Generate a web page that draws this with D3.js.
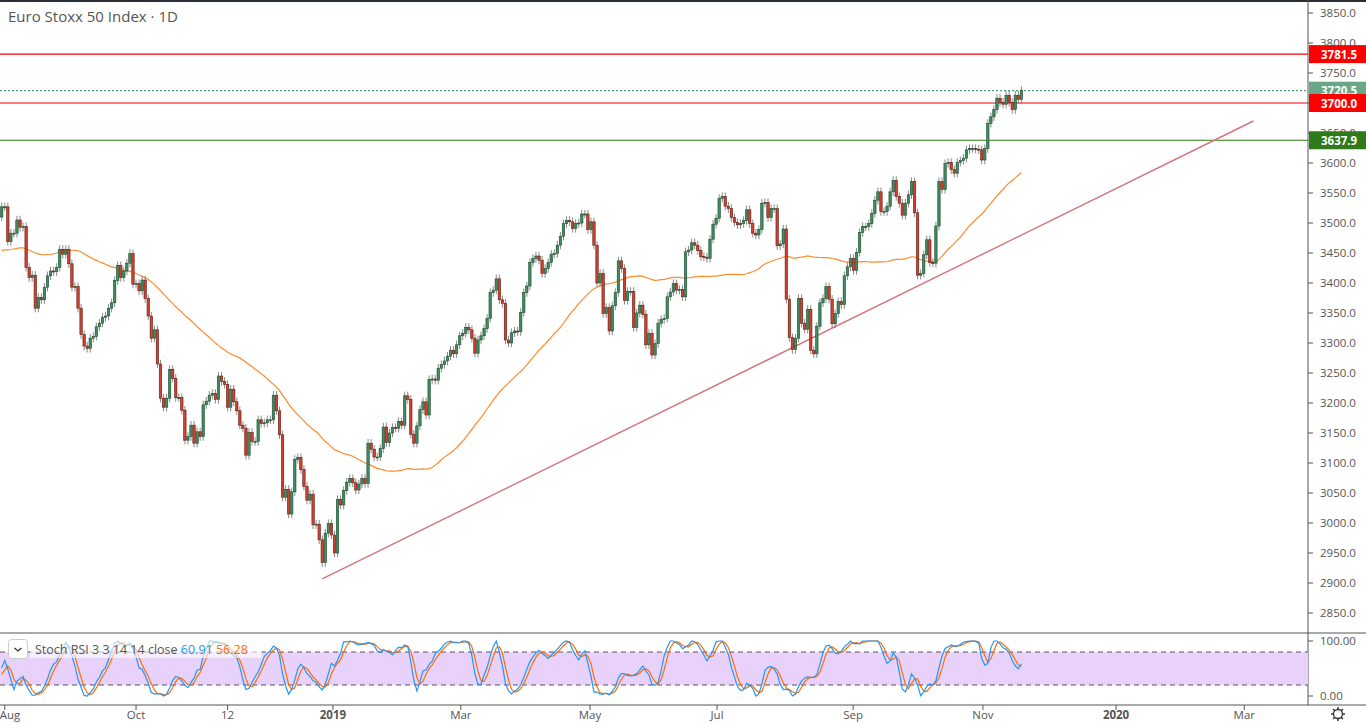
<!DOCTYPE html>
<html>
<head>
<meta charset="utf-8">
<script src="https://cdnjs.cloudflare.com/ajax/libs/d3/7.8.5/d3.min.js"></script>
<style>
  body { margin: 0; background: #fff; overflow: hidden; }
  text { font-family: "Open Sans", "DejaVu Sans", sans-serif; }
</style>
</head>
<body>
<div id="chart"></div>
<script>
// closes before the visible window (used only to warm up the MA and Stoch RSI)
var preCloses = [3450,3460,3470,3460,3440,3450,3460,3490,3500,3530,3520,3480,3450,3440,3400,3390,3400,3380,3360,3370,
  3395,3380,3400,3410,3405,3390,3420,3440,3445,3450,3460,3430,3445,3440,3460,3470,3480,3460,3480,3500,
  3510,3490,3470,3480,3495,3510,3520,3480,3500,3510];

// daily closes, Aug 2018 -> Nov 2019
var closes = [3527,3527,3469,3483,3483,3505,3493,3494,3426,3409,3413,3358,3376,3372,3393,3412,3420,3419,3426,3456,
  3448,3456,3432,3393,3394,3358,3314,3295,3291,3308,3311,3327,3333,3343,3345,3358,3367,3404,3429,3409,
  3420,3433,3449,3398,3399,3387,3405,3374,3345,3308,3322,3265,3208,3193,3208,3256,3241,3209,3209,3188,
  3138,3144,3163,3133,3152,3144,3197,3203,3213,3216,3206,3245,3236,3231,3193,3223,3202,3187,3163,3158,
  3113,3151,3136,3136,3172,3166,3167,3172,3172,3213,3187,3147,3043,3056,3015,3052,3106,3109,3089,3061,
  3038,3048,2997,2998,2972,2934,2983,2999,2980,2950,3039,3030,
  3054,3068,3074,3067,3055,3065,3074,3066,3133,3123,3110,3110,3124,3160,3134,3150,3159,3158,3169,3163,
  3212,3206,3148,3133,3162,3189,3202,3180,3239,3240,3238,3258,3264,3270,3278,3288,3282,3297,3312,3316,
  3326,3322,3308,3283,3305,3312,3324,3341,3384,3388,3407,3372,3366,3305,3300,3317,3320,3319,3351,3384,
  3395,3434,3441,3445,3438,3416,3424,3434,3448,3449,3463,3478,3499,3504,3502,3491,3499,3500,3515,3515,
  3489,3502,3463,3400,3416,3349,3359,3320,3362,3384,3437,3424,3371,3386,3386,3326,3350,3363,3348,3297,
  3316,3280,3299,3333,3339,3341,3377,
  3385,3399,3388,3389,3377,3452,3455,3467,3463,3454,3444,3443,3441,3473,3498,3508,3541,3544,3528,3524,
  3509,3501,3497,3499,3504,3522,3499,3483,3480,3489,3533,3534,3509,3524,3524,3462,3465,3490,3373,3309,
  3289,3308,3374,3333,3323,3356,3288,3282,3328,3367,3374,3394,3373,3332,3349,3369,3364,3412,3427,3441,
  3421,3451,3484,3494,3494,3499,3516,3538,3552,3519,3519,3528,3552,3571,3544,3533,3513,3533,3547,3569,
  3517,3413,3416,3447,3472,3434,3433,3495,3569,3556,3599,3601,3589,3583,3601,3604,3608,3622,3624,3624,
  3623,3622,3605,3624,3666,3677,3689,3708,3701,3698,3713,3701,3689,3713,3706,3721];

var levels = [
  {value: 3781.5, color: "#f00000", box: "#ff0000", dash: null},
  {value: 3720.5, color: "#4c9c74", box: "#68a886", dash: "2,2"},
  {value: 3700.0, color: "#f00000", box: "#ff0000", dash: null},
  {value: 3637.9, color: "#2f7a10", box: "#2f7a1a", dash: null}
];
var trendLine = [[106, 2907], [411, 3670]];
var priceTicks = d3.range(2850, 3851, 50);
var dateTicks = [
  {i: 2, label: "Aug"}, {i: 45, label: "Oct"}, {i: 75, label: "12"}, {i: 109.5, label: "2019", bold: true},
  {i: 151.4, label: "Mar"}, {i: 193.7, label: "May"}, {i: 235.3, label: "Jul"}, {i: 279.9, label: "Sep"},
  {i: 322.4, label: "Nov"}, {i: 366, label: "2020", bold: true}, {i: 408, label: "Mar"}
];

var W = 1366, H = 723, axisX = 1308;
var svg = d3.select("#chart").append("svg").attr("width", W).attr("height", H);

// bars
var all = preCloses.concat(closes);
var off = preCloses.length;
var bars = closes.map(function (c, k) {
  var o = all[off + k - 1];
  return {i: k + 1, o: o, c: c, h: Math.max(o, c) + 7, l: Math.min(o, c) - 7};
});

// 50 day simple moving average
var ma = closes.map(function (c, k) {
  var j = off + k;
  return {i: k + 1, v: d3.mean(all.slice(j - 49, j + 1))};
});

// stoch rsi 3 3 14 14
var rsi = [];
var ag = 0, al = 0;
for (var j = 1; j < all.length; j++) {
  var ch = all[j] - all[j - 1];
  var g = Math.max(ch, 0), ls = Math.max(-ch, 0);
  if (j <= 14) { ag += g / 14; al += ls / 14; }
  else { ag = (ag * 13 + g) / 14; al = (al * 13 + ls) / 14; }
  rsi[j] = j >= 14 ? (al == 0 ? 100 : 100 - 100 / (1 + ag / al)) : null;
}
var st = [];
for (var j = 27; j < all.length; j++) {
  var win = rsi.slice(j - 13, j + 1);
  var mn = d3.min(win), mx = d3.max(win);
  st[j] = mx == mn ? 50 : (rsi[j] - mn) / (mx - mn) * 100;
}
var kk = [], dd = [];
for (var j = 29; j < all.length; j++) kk[j] = d3.mean(st.slice(j - 2, j + 1));
for (var j = 31; j < all.length; j++) dd[j] = d3.mean(kk.slice(j - 2, j + 1));
var stoch = closes.map(function (c, k) { return {i: k + 1, k: kk[off + k], d: dd[off + k]}; });

// scales
var x = d3.scaleLinear().domain([1, 336]).range([1.7, 1.7 + 335 * 3.053]);
var y = d3.scaleLinear().domain([3600, 2850]).range([163, 613]);
var yr = d3.scaleLinear().domain([0, 100]).range([696, 641]);

// clip for main pane
svg.append("clipPath").attr("id", "mainclip").append("rect").attr("x", 0).attr("y", 2).attr("width", axisX).attr("height", 630);
var main = svg.append("g").attr("clip-path", "url(#mainclip)");

// horizontal levels
levels.forEach(function (d) {
  main.append("line").attr("x1", 0).attr("x2", axisX).attr("y1", y(d.value)).attr("y2", y(d.value))
    .attr("stroke", d.color).attr("stroke-width", 1.2).attr("stroke-dasharray", d.dash);
});

// trend line
main.append("line")
  .attr("x1", x(trendLine[0][0])).attr("y1", y(trendLine[0][1]))
  .attr("x2", x(trendLine[1][0])).attr("y2", y(trendLine[1][1]))
  .attr("stroke", "#d4747c").attr("stroke-width", 1.4);

// moving average
main.append("path").datum(ma)
  .attr("d", d3.line().x(function (d) { return x(d.i); }).y(function (d) { return y(d.v); }))
  .attr("fill", "none").attr("stroke", "#ff8a2a").attr("stroke-width", 1.2);

// candles
var cg = main.append("g").selectAll("g").data(bars).enter().append("g");
cg.append("line")
  .attr("x1", function (d) { return x(d.i); }).attr("x2", function (d) { return x(d.i); })
  .attr("y1", function (d) { return y(d.h); }).attr("y2", function (d) { return y(d.l); })
  .attr("stroke", "#6b6b6b").attr("stroke-width", 0.8);
cg.append("rect")
  .attr("x", function (d) { return x(d.i) - 1.2; }).attr("width", 2.4)
  .attr("y", function (d) { return y(Math.max(d.o, d.c)); })
  .attr("height", function (d) { return Math.max(1, Math.abs(y(d.o) - y(d.c))); })
  .attr("fill", function (d) { return d.c >= d.o ? "#3e8c60" : "#d2402f"; })
  .attr("stroke", function (d) { return d.c >= d.o ? "#1d4b31" : "#5c1c12"; })
  .attr("stroke-width", 0.6);

// top border
svg.append("rect").attr("x", 0).attr("y", 0).attr("width", W).attr("height", 2).attr("fill", "#2a2e39");

// title
svg.append("text").attr("x", 8).attr("y", 22).attr("font-size", 15).attr("fill", "#555").text("Euro Stoxx 50 Index · 1D");

// price axis
svg.append("line").attr("x1", axisX).attr("x2", axisX).attr("y1", 0).attr("y2", 705).attr("stroke", "#555").attr("stroke-width", 1);
var pa = svg.append("g").selectAll("g").data(priceTicks).enter().append("g");
pa.append("line").attr("x1", axisX).attr("x2", axisX + 5).attr("y1", function (d) { return y(d); }).attr("y2", function (d) { return y(d); }).attr("stroke", "#555");
pa.append("text").attr("x", axisX + 12).attr("y", function (d) { return y(d) + 4; })
  .attr("font-size", 11.5).attr("fill", "#555").text(function (d) { return d.toFixed(1); });

// level labels
levels.forEach(function (d) {
  svg.append("rect").attr("x", axisX + 1).attr("y", y(d.value) - 9).attr("width", W - axisX).attr("height", 18).attr("fill", d.box);
  svg.append("text").attr("x", axisX + 13).attr("y", y(d.value) + 4.5).attr("font-size", 11.5)
    .attr("font-weight", "bold").attr("fill", "#fff").text(d.value.toFixed(1));
});

// separator between panes
svg.append("line").attr("x1", 0).attr("x2", W).attr("y1", 633).attr("y2", 633).attr("stroke", "#555");

// stoch rsi pane
svg.append("rect").attr("x", 0).attr("y", yr(80)).attr("width", axisX).attr("height", yr(20) - yr(80)).attr("fill", "#e8d2fb");
[80, 20].forEach(function (v) {
  svg.append("line").attr("x1", 0).attr("x2", axisX).attr("y1", yr(v)).attr("y2", yr(v))
    .attr("stroke", "#555").attr("stroke-dasharray", "5,4");
});
svg.append("path").datum(stoch)
  .attr("d", d3.line().x(function (d) { return x(d.i); }).y(function (d) { return yr(d.d); }))
  .attr("fill", "none").attr("stroke", "#ff6d00").attr("stroke-width", 1.2);
svg.append("path").datum(stoch)
  .attr("d", d3.line().x(function (d) { return x(d.i); }).y(function (d) { return yr(d.k); }))
  .attr("fill", "none").attr("stroke", "#2196f3").attr("stroke-width", 1.2);
[100, 0].forEach(function (v) {
  svg.append("line").attr("x1", axisX).attr("x2", axisX + 5).attr("y1", yr(v)).attr("y2", yr(v)).attr("stroke", "#555");
  svg.append("text").attr("x", axisX + 12).attr("y", yr(v) + 4).attr("font-size", 11.5).attr("fill", "#555").text(v.toFixed(2));
});

// legend
svg.append("rect").attr("x", 30).attr("y", 640).attr("width", 232).attr("height", 18).attr("fill", "#fff").attr("opacity", 0.6);
svg.append("rect").attr("x", 8.5).attr("y", 639.5).attr("width", 19).attr("height", 19).attr("rx", 3).attr("fill", "#fff").attr("stroke", "#ccc");
svg.append("path").attr("d", "M14.5,648 L18,651 L21.5,648").attr("fill", "none").attr("stroke", "#333").attr("stroke-width", 1.3);
var lg = svg.append("text").attr("x", 35).attr("y", 654).attr("font-size", 12.5);
lg.append("tspan").attr("fill", "#555").text("Stoch RSI 3 3 14 14 close ");
lg.append("tspan").attr("fill", "#2196f3").text(" 60.91 ");
lg.append("tspan").attr("fill", "#ff6d00").text(" 56.28");

// date axis
svg.append("line").attr("x1", 0).attr("x2", W).attr("y1", 705).attr("y2", 705).attr("stroke", "#555");
var da = svg.append("g").selectAll("g").data(dateTicks).enter().append("g");
da.append("line").attr("x1", function (d) { return x(d.i); }).attr("x2", function (d) { return x(d.i); })
  .attr("y1", 705).attr("y2", 710).attr("stroke", "#555");
da.append("text").attr("x", function (d) { return Math.max(x(d.i), 10); }).attr("y", 719).attr("text-anchor", "middle")
  .attr("font-size", 11.5).attr("font-weight", function (d) { return d.bold ? "bold" : "normal"; })
  .attr("fill", "#555").text(function (d) { return d.label; });

// settings gear
var gear = svg.append("g").attr("transform", "translate(1338,714)");
gear.append("circle").attr("r", 4.5).attr("fill", "none").attr("stroke", "#333").attr("stroke-width", 1.3);
d3.range(8).forEach(function (k) {
  var a = k * Math.PI / 4;
  gear.append("line").attr("x1", Math.cos(a) * 4.5).attr("y1", Math.sin(a) * 4.5)
    .attr("x2", Math.cos(a) * 7).attr("y2", Math.sin(a) * 7).attr("stroke", "#333").attr("stroke-width", 1.5);
});
</script>
</body>
</html>
